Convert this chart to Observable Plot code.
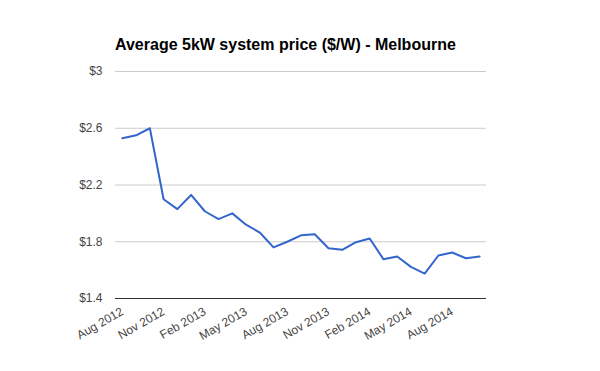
<!DOCTYPE html>
<html>
<head>
<meta charset="utf-8">
<script src="https://cdn.jsdelivr.net/npm/d3@7"></script>
<script src="https://cdn.jsdelivr.net/npm/@observablehq/plot@0.6"></script>
<style>
  html, body { margin: 0; padding: 0; background: #fff; }
  #wrap { width: 600px; height: 371px; position: relative; overflow: hidden; }
  #title { position: absolute; left: 115px; top: 36px; font: bold 16px Arial, "Liberation Sans", sans-serif; line-height: 18px; color: #000; white-space: nowrap; }
  #chart { position: absolute; left: 0; top: 60px; }
</style>
</head>
<body>
<div id="wrap">
  <div id="title">Average 5kW system price ($/W) - Melbourne</div>
  <div id="chart"></div>
</div>
<script>
const months = ["Aug 2012","Sep 2012","Oct 2012","Nov 2012","Dec 2012",
  "Jan 2013","Feb 2013","Mar 2013","Apr 2013","May 2013","Jun 2013","Jul 2013","Aug 2013","Sep 2013","Oct 2013","Nov 2013","Dec 2013",
  "Jan 2014","Feb 2014","Mar 2014","Apr 2014","May 2014","Jun 2014","Jul 2014","Aug 2014","Sep 2014","Oct 2014"];
const prices = [2.53,2.55,2.60,2.10,2.03,
  2.13,2.015,1.96,2.00,1.92,1.865,1.76,1.80,1.845,1.853,1.754,1.743,
  1.797,1.823,1.677,1.696,1.623,1.576,1.703,1.724,1.684,1.696];
const xTickLabels = ["Aug 2012","Nov 2012","Feb 2013","May 2013","Aug 2013","Nov 2013","Feb 2014","May 2014","Aug 2014"];
const yTicks = [1.4,1.8,2.2,2.6,3];

const data = months.map((m, i) => ({month: m, price: prices[i]}));

const chart = Plot.plot({
  width: 600,
  height: 311,
  marginTop: 11,
  marginBottom: 73,
  marginLeft: 115,
  marginRight: 114,
  style: {fontFamily: "Arial, 'Liberation Sans', sans-serif", fontSize: "12px", color: "#444", background: "#fff"},
  x: {type: "point", domain: months, padding: 0.5, round: false},
  y: {domain: [1.4, 3]},
  marks: [
    Plot.ruleY(yTicks.filter(d => d > 1.4), {stroke: "#ccc", strokeWidth: 1}),
    Plot.ruleY([1.4], {stroke: "#333", strokeWidth: 1}),
    Plot.axisY({ticks: yTicks, tickFormat: d => "$" + d, tickSize: 0, tickPadding: 13, fill: "#444", fontSize: 12, label: null}),
    Plot.axisX({ticks: xTickLabels, tickSize: 0, tickRotate: -30, tickPadding: 12, fill: "#444", fontSize: 12, label: null}),
    Plot.line(data, {x: "month", y: "price", stroke: "#3366cc", strokeWidth: 2})
  ]
});
document.getElementById("chart").appendChild(chart);
</script>
</body>
</html>
